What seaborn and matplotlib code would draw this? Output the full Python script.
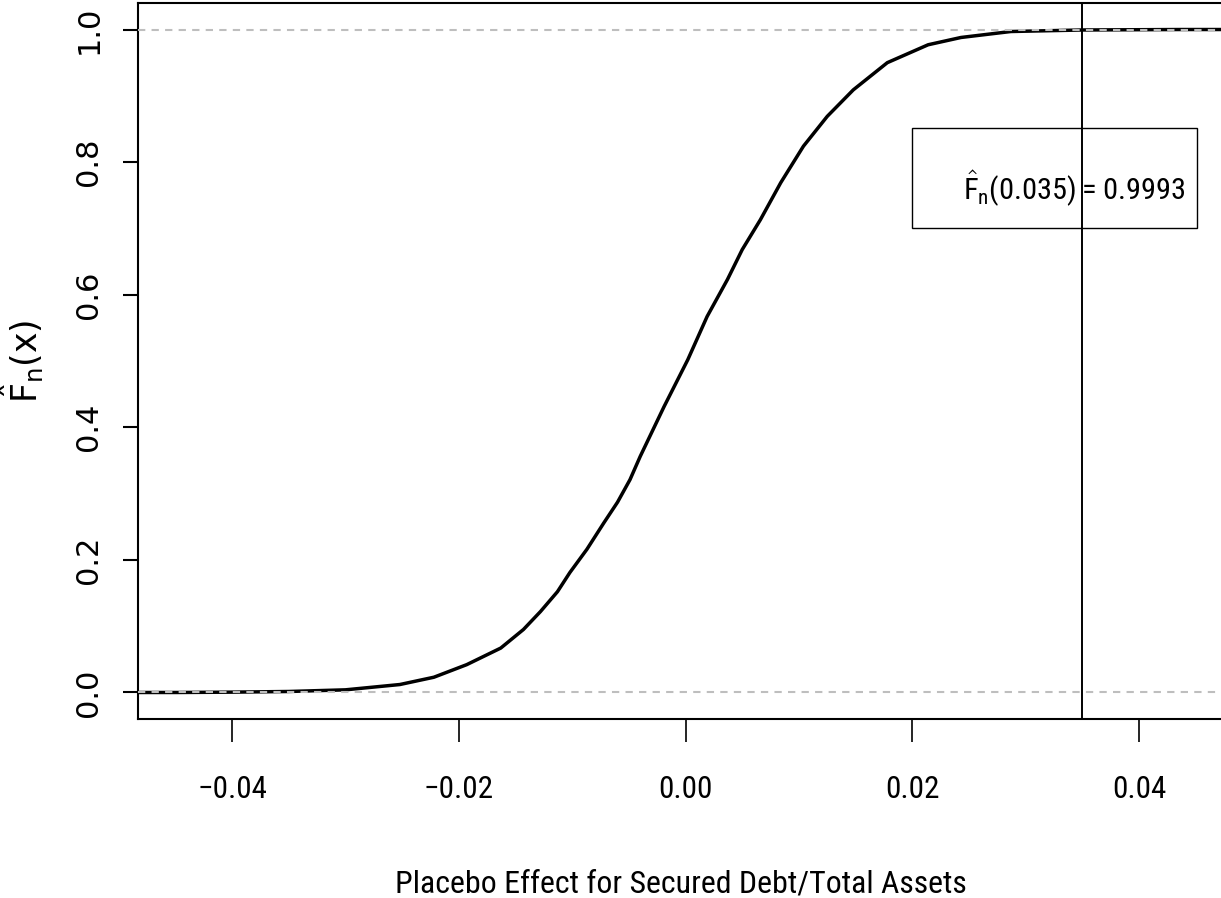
import matplotlib
matplotlib.use("Agg")
import matplotlib.pyplot as plt
import seaborn as sns
import pandas as pd
from matplotlib.patches import Rectangle
from matplotlib import font_manager

# ECDF values (curve runs edge to edge)
x_vals = [-0.0483, -0.0448, -0.040, -0.035, -0.030, -0.0252, -0.0222, -0.0193, -0.0163,
          -0.0143, -0.0128, -0.0113, -0.0102, -0.0087, -0.0072, -0.0060, -0.0049,
          -0.0040, -0.0019, 0.0002, 0.0019, 0.0037, 0.0050, 0.0066, 0.0084,
          0.0104, 0.0125, 0.0148, 0.0178, 0.0214, 0.0243, 0.0287, 0.035, 0.0437, 0.0480]
f_vals = [0.0, 0.0, 0.0005, 0.0015, 0.004, 0.012, 0.023, 0.042, 0.067,
          0.095, 0.122, 0.152, 0.181, 0.216, 0.256, 0.287, 0.321,
          0.356, 0.431, 0.502, 0.567, 0.623, 0.668, 0.713, 0.769,
          0.824, 0.869, 0.909, 0.950, 0.977, 0.988, 0.997, 0.9993, 1.0, 1.0]

x_ticks = [-0.04, -0.02, 0.00, 0.02, 0.04]
x_tick_labels = ["\u22120.04", "\u22120.02", "0.00", "0.02", "0.04"]
y_ticks = [0.0, 0.2, 0.4, 0.6, 0.8, 1.0]
y_tick_labels = ["0.0", "0.2", "0.4", "0.6", "0.8", "1.0"]
marker_x = 0.035
marker_value = "0.9993"
x_label = "Placebo Effect for Secured Debt/Total Assets"

sns.set_style("ticks")

available = {f.name for f in font_manager.fontManager.ttflist}
narrow = None
for cand in ["Liberation Sans Narrow", "Roboto Condensed", "DejaVu Sans Condensed"]:
    if cand in available:
        narrow = cand
        break
if narrow is None:
    narrow = "Liberation Sans"
    scale = 1.0
else:
    scale = 1.12

plt.rcParams["font.family"] = [narrow, "DejaVu Sans"]
plt.rcParams["mathtext.fontset"] = "custom"
plt.rcParams["mathtext.rm"] = narrow
plt.rcParams["mathtext.it"] = narrow
for k in ["text.color", "axes.labelcolor", "xtick.color", "ytick.color", "axes.edgecolor"]:
    plt.rcParams[k] = "black"

df = pd.DataFrame({"x": x_vals, "F": f_vals})

fig = plt.figure(figsize=(12.21, 8.98), dpi=100)
ax = fig.add_axes([138 / 1221, 1 - 719 / 898, (1224 - 138) / 1221, (719 - 3) / 898])

sns.lineplot(data=df, x="x", y="F", ax=ax, color="black", lw=2.5,
             sort=False, estimator=None, zorder=2)

ax.axhline(0, color="#bebebe", lw=1.5, ls=(0, (3.5, 3)), zorder=3)
ax.axhline(1, color="#bebebe", lw=1.5, ls=(0, (3.5, 3)), zorder=3)

ax.axvline(marker_x, color="black", lw=1.4, zorder=4)

xmin, xmax = -0.0483, 0.0475
ax.set_xlim(xmin, xmax)
ax.set_ylim(-0.04, 1.04)

# legend-like box
ax.add_patch(Rectangle((0.02, 0.700), 0.0451 - 0.02, 0.852 - 0.700,
                       fill=False, edgecolor="black", lw=1.0, zorder=5))
ax.text(0.02446, 0.759, r"$\hat{\mathrm{F}}_{\mathrm{n}}$(0.035)" + "\u2009=\u2009" + marker_value,
        ha="left", va="center", fontsize=19.5 * scale,
        math_fontfamily="custom", zorder=6, color="black")

ax.set_xticks(x_ticks)
ax.set_xticklabels(x_tick_labels, fontsize=20 * scale)
ax.set_yticks(y_ticks)
ax.set_yticklabels(y_tick_labels, fontsize=22, family="DejaVu Sans",
                   rotation=90, va="center")
ax.tick_params(axis="x", length=16.5, width=1.2, pad=24)
ax.tick_params(axis="y", length=11, width=1.5, pad=14)

for s in ax.spines.values():
    s.set_linewidth(1.5)
    s.set_color("black")

ax.set_xlabel(x_label, fontsize=20.5 * scale, labelpad=47)
ax.set_ylabel(r"$\hat{\mathrm{F}}_{\mathrm{n}}\mathrm{(x)}$", fontsize=25, family="DejaVu Sans",
              math_fontfamily="dejavusans", labelpad=20)

ax.set_facecolor("white")
fig.patch.set_facecolor("white")
fig.savefig("out.png", dpi=100)
